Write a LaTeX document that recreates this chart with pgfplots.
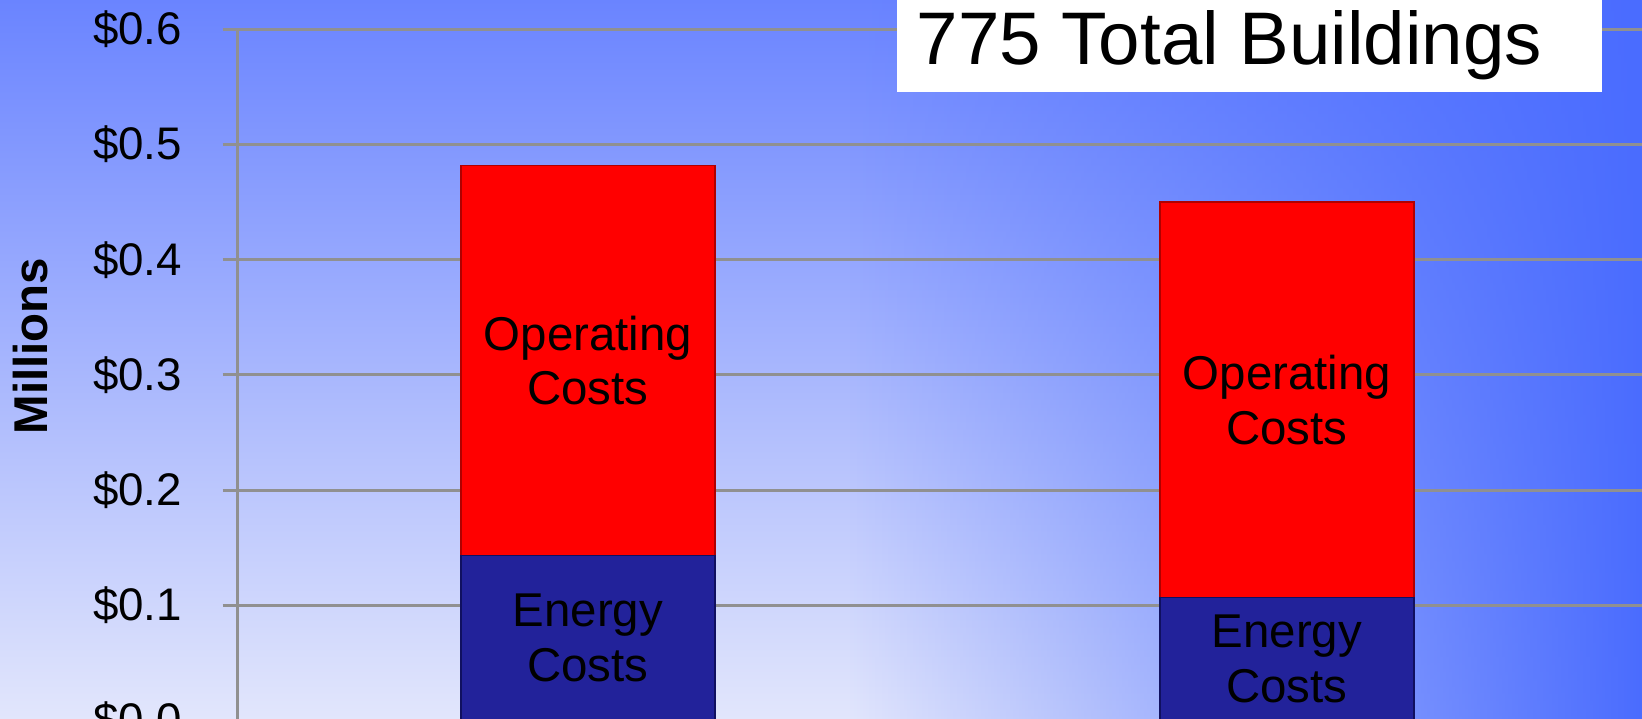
\documentclass[border=0pt]{standalone}
\usepackage{pgfplots}
\pgfplotsset{compat=1.18}
\usepackage{fontspec}
\setmainfont{Liberation Sans}
\usetikzlibrary{fadings}
\definecolor{bgtop}{HTML}{6A84FF}
\definecolor{bgbot}{HTML}{E2E6FC}
\definecolor{bgright}{HTML}{4A6CFF}
\definecolor{gridgray}{HTML}{909090}
\definecolor{opred}{HTML}{FF0000}
\definecolor{opredd}{HTML}{B00000}
\definecolor{ennavy}{HTML}{22229A}
\definecolor{ennavyd}{HTML}{101060}
\tikzfading[name=fadeR, left color=transparent!100, right color=transparent!0]

\pgfplotstableread{
x energy operating
1 0.143 0.339
2 0.107 0.343
}\costs

\begin{document}
\begin{tikzpicture}
\useasboundingbox (0,0) rectangle (16.42cm,7.19cm);
% background
\shade[top color=bgtop, bottom color=bgbot] (0,0) rectangle (16.42cm,7.19cm);
\fill[bgright, path fading=fadeR] (8.5cm,0) rectangle (16.42cm,7.19cm);
\begin{axis}[
  scale only axis,
  width=14.043cm, height=6.912cm,
  at={(2.377cm,-0.015cm)}, anchor=south west,
  xmin=0.4989, xmax=2.508, ymin=0, ymax=0.6,
  axis lines*=left,
  axis line style={gridgray, line width=0.85pt},
  ybar stacked, bar width=2.54cm,
  xtick=\empty,
  ytick={0,0.1,0.2,0.3,0.4,0.5,0.6},
  yticklabels={\$0.0,\$0.1,\$0.2,\$0.3,\$0.4,\$0.5,\$0.6},
  tick align=outside,
  major tick length=0.15cm,
  tick style={gridgray, line width=0.85pt},
  ymajorgrids,
  major grid style={gridgray, line width=0.85pt},
  yticklabel style={font=\fontsize{13}{15}\selectfont, text=black, anchor=east, inner sep=0pt, xshift=-0.4cm},
  ylabel={Millions},
  ylabel style={font=\fontsize{13.5}{15}\selectfont\bfseries, at={(axis description cs:-0.1472,0.5418)}, anchor=center},
  clip=false,
]
\addplot[fill=ennavy, draw=ennavyd, line width=0.4pt] table[x=x, y=energy] {\costs};
\addplot[fill=opred, draw=opredd, line width=0.4pt] table[x=x, y=operating] {\costs};
\coordinate (o1) at (axis cs:1,0.3125);
\coordinate (o2) at (axis cs:2,0.2785);
\coordinate (e1) at (axis cs:1,0.0715);
\coordinate (e2) at (axis cs:2,0.0535);
\end{axis}
\node[font=\fontsize{13.5}{15.6}\selectfont, align=center] at (o1) {Operating\\Costs};
\node[font=\fontsize{13.5}{15.6}\selectfont, align=center] at (o2) {Operating\\Costs};
\node[font=\fontsize{13.5}{15.6}\selectfont, align=center] at (e1) {Energy\\Costs};
\node[font=\fontsize{13.5}{15.6}\selectfont, align=center] at (e2) {Energy\\Costs};
\fill[white] (8.97cm,6.27cm) rectangle (16.02cm,7.3cm);
\node[anchor=base west, inner sep=0pt, font=\fontsize{21.2}{24}\selectfont] at (9.16cm,6.54cm) {775 Total Buildings};
\end{tikzpicture}
\end{document}
